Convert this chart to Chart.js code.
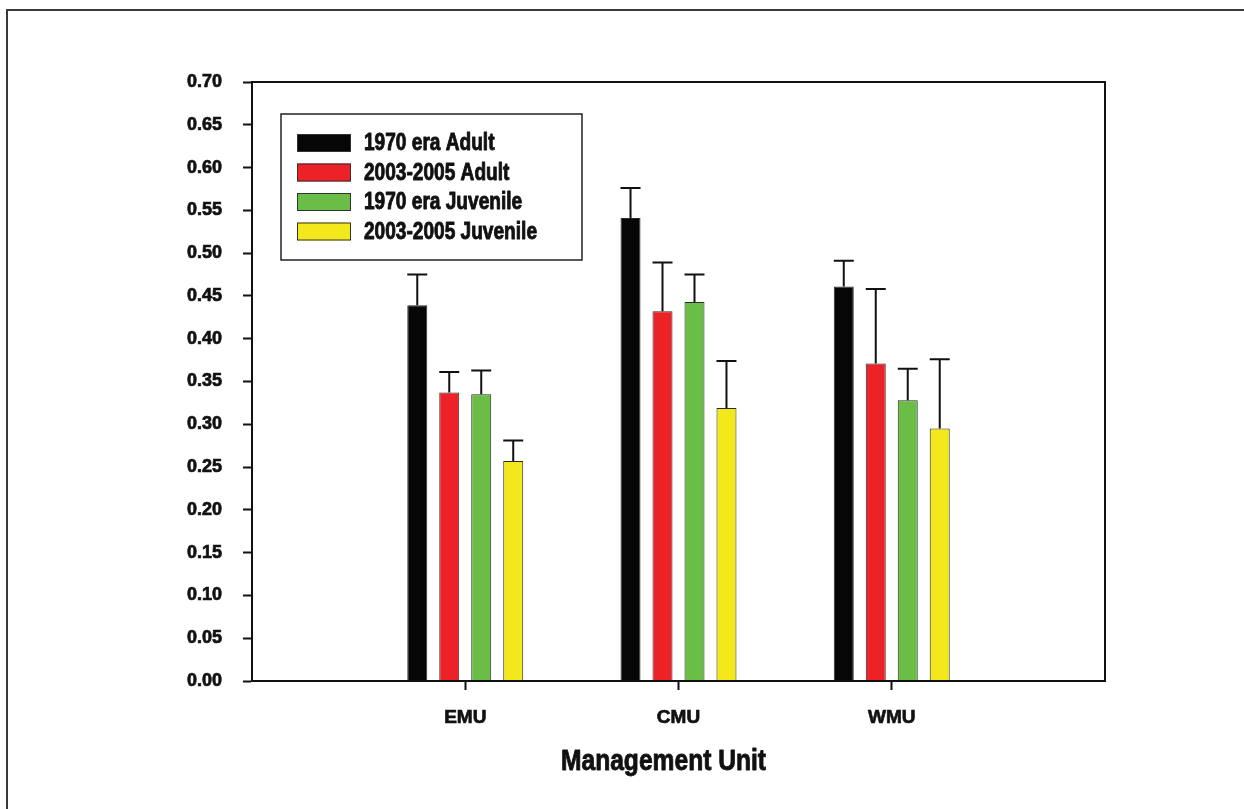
<!DOCTYPE html>
<html>
<head>
<meta charset="utf-8">
<script src="https://cdn.jsdelivr.net/npm/chart.js@4.4.1/dist/chart.umd.min.js"></script>
<style>
  html, body { margin: 0; padding: 0; background: #fff; }
  #wrap { position: relative; width: 1244px; height: 809px; overflow: hidden; }
  #frame { position: absolute; left: 6px; top: 9px; width: 1400px; height: 1000px;
           border-top: 2px solid #3a3a3a; border-left: 2px solid #3a3a3a; }
  #chart { position: absolute; left: 0; top: 0; }
</style>
</head>
<body>
<div id="wrap">
  <div id="frame"></div>
  <canvas id="chart" width="1244" height="809"></canvas>
</div>
<script>
// Management units (blank slots pad the axis on both sides)
const units = ['', 'EMU', 'CMU', 'WMU', ''];

// Mean values per management unit
const adult1970 = [null, 0.439, 0.541, 0.461, null];
const adult2003 = [null, 0.337, 0.432, 0.371, null];
const juv1970   = [null, 0.335, 0.443, 0.328, null];
const juv2003   = [null, 0.257, 0.319, 0.295, null];

// Standard errors (upper bars only)
const adult1970Err = [null, 0.036, 0.035, 0.030, null];
const adult2003Err = [null, 0.024, 0.057, 0.087, null];
const juv1970Err   = [null, 0.028, 0.032, 0.037, null];
const juv2003Err   = [null, 0.024, 0.055, 0.081, null];

// Series names
const seriesNames = ['1970 era Adult', '2003-2005 Adult', '1970 era Juvenile', '2003-2005 Juvenile'];

const FONT = "'Liberation Sans', Arial, sans-serif";

const fills = ['#060606', '#ed2226', '#6abd46', '#f2e81b'];
const values = [adult1970, adult2003, juv1970, juv2003];
const errors = [adult1970Err, adult2003Err, juv1970Err, juv2003Err];

// Upper error bars
const errorBars = {
  id: 'errorBars',
  afterDatasetsDraw(chart) {
    const ctx = chart.ctx;
    const yScale = chart.scales.y;
    ctx.save();
    ctx.strokeStyle = '#111';
    ctx.lineWidth = 2;
    chart.data.datasets.forEach((ds, i) => {
      const meta = chart.getDatasetMeta(i);
      meta.data.forEach((bar, j) => {
        const v = ds.data[j];
        const e = ds.errors[j];
        if (v == null || e == null) return;
        const yTop = yScale.getPixelForValue(v + e);
        const half = bar.width / 2;
        ctx.beginPath();
        ctx.moveTo(bar.x, bar.y);
        ctx.lineTo(bar.x, yTop);
        ctx.moveTo(bar.x - half, yTop);
        ctx.lineTo(bar.x + half, yTop);
        ctx.stroke();
      });
    });
    ctx.restore();
  }
};

// Narrow heavy text: horizontally compressed glyphs with a thin outline
function narrowText(ctx, text, x, y, size, squeeze, align) {
  ctx.save();
  ctx.font = 'bold ' + size + 'px ' + FONT;
  ctx.textBaseline = 'middle';
  ctx.textAlign = align;
  ctx.translate(x, y);
  ctx.scale(squeeze, 1);
  ctx.fillStyle = '#111';
  ctx.strokeStyle = '#111';
  ctx.lineWidth = 0.9;
  ctx.lineJoin = 'round';
  ctx.fillText(text, 0, 0);
  ctx.strokeText(text, 0, 0);
  ctx.restore();
}

// Plot frame, boxed legend and axis title
const decorations = {
  id: 'decorations',
  afterDraw(chart) {
    const ctx = chart.ctx;
    const a = chart.chartArea;
    ctx.save();
    // frame around the plotting area
    ctx.strokeStyle = '#111';
    ctx.lineWidth = 2;
    ctx.strokeRect(a.left, a.top, a.right - a.left, a.bottom - a.top);

    // legend box
    const lx = a.left + 29, ly = a.top + 32, lw = 301, lh = 146;
    ctx.fillStyle = '#fff';
    ctx.fillRect(lx, ly, lw, lh);
    ctx.lineWidth = 1.5;
    ctx.strokeStyle = '#222';
    ctx.strokeRect(lx, ly, lw, lh);
    chart.data.datasets.forEach((ds, i) => {
      const sy = ly + 20 + i * 29.5;
      ctx.fillStyle = ds.backgroundColor;
      ctx.fillRect(lx + 16, sy, 54, 18);
      ctx.lineWidth = 1;
      ctx.strokeStyle = '#333';
      ctx.strokeRect(lx + 16.5, sy + 0.5, 53, 17);
      narrowText(ctx, ds.label, lx + 83, sy + 10, 23, 0.83, 'left');
    });

    // x axis title
    const xs = chart.scales.x;
    narrowText(ctx, 'Management Unit', xs.getPixelForValue(2) - 15, 762, 30, 0.82, 'center');
    ctx.restore();
  }
};

new Chart(document.getElementById('chart'), {
  type: 'bar',
  data: {
    labels: units,
    datasets: seriesNames.map((name, i) => ({
      label: name,
      data: values[i],
      errors: errors[i],
      backgroundColor: fills[i],
      borderColor: '#2a2a2a',
      borderWidth: 1,
      categoryPercentage: 0.6,
      barPercentage: 0.625
    }))
  },
  options: {
    responsive: false,
    animation: false,
    layout: { padding: { left: 0, top: 82, right: 139, bottom: 0 } },
    plugins: {
      legend: { display: false },
      tooltip: { enabled: false }
    },
    scales: {
      x: {
        type: 'category',
        offset: false,
        grid: {
          offset: false,
          drawOnChartArea: false,
          drawTicks: true,
          tickLength: 9,
          tickWidth: 2,
          tickColor: (c) => (units[c.index] ? '#111' : 'rgba(0,0,0,0)')
        },
        border: { display: true, color: '#111', width: 2 },
        ticks: {
          color: '#111',
          textStrokeColor: '#111',
          textStrokeWidth: 0.7,
          font: { family: FONT, size: 19, weight: 'bold' },
          padding: 16,
          maxRotation: 0,
          autoSkip: false
        },
        afterFit: (s) => { s.height = 128; }
      },
      y: {
        min: 0,
        max: 0.7,
        grid: {
          drawOnChartArea: false,
          drawTicks: true,
          tickLength: 9,
          tickWidth: 2,
          tickColor: '#111'
        },
        border: { display: true, color: '#111', width: 2 },
        ticks: {
          stepSize: 0.05,
          color: '#111',
          textStrokeColor: '#111',
          textStrokeWidth: 0.7,
          font: { family: FONT, size: 18, weight: 'bold' },
          padding: 21,
          callback: (v) => Number(v).toFixed(2)
        },
        afterFit: (s) => { s.width = 252; }
      }
    }
  },
  plugins: [errorBars, decorations]
});
</script>
</body>
</html>
